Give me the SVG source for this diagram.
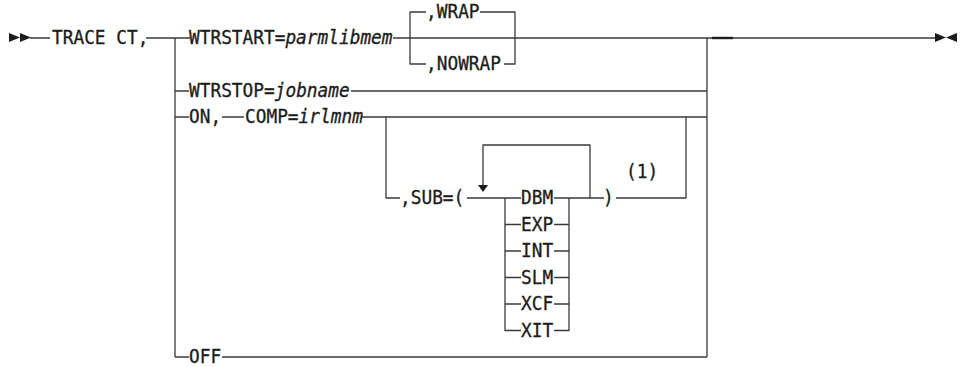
<svg xmlns="http://www.w3.org/2000/svg" width="962" height="367" viewBox="0 0 962 367">
<style>
.t{font-family:"DejaVu Sans Mono","Liberation Mono",monospace;font-size:17.8px;fill:#1c1c1c;stroke:#1c1c1c;stroke-width:0.3}
.i{font-style:italic}
.c{fill:none;stroke:#3a3a3a;stroke-width:1.3;stroke-linejoin:round;stroke-linecap:butt}
.a{fill:#1c1c1c}
</style>
<rect width="962" height="367" fill="#fff"/>
<g id="connectors">
<path class="c" d="M30,38H50M146,38H190M393,38H935"/>
<path class="c" d="M175,38V357"/>
<path class="c" d="M707,38V357"/>
<path class="c" d="M410,38V12H426M480,12H515V64H504M426,64H410V38"/>
<path class="c" d="M175,91H189M351,91H707"/>
<path class="c" d="M175,117H189M222,117H244M361,117H707"/>
<path class="c" d="M386,117V198H400M467,198H521M554,198H604M616,198H686V117"/>
<path class="c" d="M590,198V145H483V186"/>
<path class="c" d="M505,198V330.5H521M505,224.5H521M505,251H521M505,277.5H521M505,304H521"/>
<path class="c" d="M569,198V330.5H554M569,224.5H554M569,251H554M569,277.5H554M569,304H554"/>
<path class="c" d="M175,357H189M222,357H707"/>
<path d="M712,38H733" stroke="#1c1c1c" stroke-width="2.4"/>
<polygon class="a" points="478,185 488,185 483,192"/>
<polygon class="a" points="9,33 20,37.5 9,42"/>
<polygon class="a" points="20,33 31,37.5 20,42"/>
<polygon class="a" points="935,33 946,37.5 935,42"/>
<polygon class="a" points="957,33 946,37.5 957,42"/>
</g>
<g id="trace"><text class="t" transform="translate(52,44.3) scale(1,1.1)">TRACE CT,</text></g>
<g id="wtrstart"><text class="t" transform="translate(189,44.3) scale(1,1.1)">WTRSTART=<tspan class="i">parmlibmem</tspan></text></g>
<g id="wrap"><text class="t" transform="translate(426,18.3) scale(1,1.1)">,WRAP</text></g>
<g id="nowrap"><text class="t" transform="translate(426,70.3) scale(1,1.1)">,NOWRAP</text></g>
<g id="wtrstop"><text class="t" transform="translate(189,97.3) scale(1,1.1)">WTRSTOP=<tspan class="i">jobname</tspan></text></g>
<g id="on"><text class="t" transform="translate(189,123.3) scale(1,1.1)">ON,</text></g>
<g id="comp"><text class="t" transform="translate(245,123.3) scale(1,1.1)">COMP=<tspan class="i">irlmnm</tspan></text></g>
<g id="sub"><text class="t" transform="translate(400,204.3) scale(1,1.1)">,SUB=(</text></g>
<g id="dbm"><text class="t" transform="translate(521,204.3) scale(1,1.1)">DBM</text></g>
<g id="exp"><text class="t" transform="translate(521,230.8) scale(1,1.1)">EXP</text></g>
<g id="int"><text class="t" transform="translate(521,257.3) scale(1,1.1)">INT</text></g>
<g id="slm"><text class="t" transform="translate(521,283.8) scale(1,1.1)">SLM</text></g>
<g id="xcf"><text class="t" transform="translate(521,310.3) scale(1,1.1)">XCF</text></g>
<g id="xit"><text class="t" transform="translate(521,336.8) scale(1,1.1)">XIT</text></g>
<g id="close"><text class="t" transform="translate(603,204.3) scale(1,1.1)">)</text></g>
<g id="note"><text class="t" transform="translate(626,177.5) scale(1,1.1)">(1)</text></g>
<g id="off"><text class="t" transform="translate(189,363.3) scale(1,1.1)">OFF</text></g>
</svg>
